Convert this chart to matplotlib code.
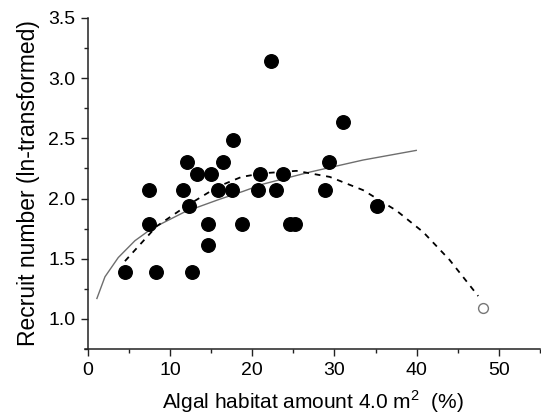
import matplotlib
matplotlib.use("Agg")
import matplotlib.pyplot as plt
from matplotlib.ticker import MultipleLocator

plt.rcParams["font.family"] = ["Liberation Sans", "DejaVu Sans"]
plt.rcParams["mathtext.fontset"] = "custom"
plt.rcParams["mathtext.rm"] = "Liberation Sans"

# observed sites (filled dots)
habitat = [4.50, 8.27, 12.71, 7.46, 7.46, 11.55, 12.29, 12.01, 13.29, 14.55,
           14.55, 15.03, 15.85, 16.48, 17.54, 17.64, 18.80, 20.73, 20.92, 22.27,
           22.85, 23.72, 24.59, 25.17, 28.79, 29.33, 31.07, 35.22]
recruits = [1.39, 1.39, 1.39, 1.79, 2.07, 2.07, 1.94, 2.30, 2.20, 1.79,
            1.61, 2.20, 2.07, 2.30, 2.07, 2.49, 1.79, 2.07, 2.20, 3.14,
            2.07, 2.20, 1.79, 1.79, 2.07, 2.30, 2.64, 1.94]

# outlier site (open circle)
outlier_x = [48.07]
outlier_y = [1.09]

# solid fitted curve
fit_x = [1.09, 2.07, 3.69, 5.72, 7.75, 11.80, 15.85, 18.89, 21.31, 27.01, 33.48, 39.95]
fit_y = [1.17, 1.35, 1.51, 1.65, 1.75, 1.89, 1.99, 2.06, 2.12, 2.22, 2.32, 2.40]

# dashed fitted curve
quad_x = [4.50, 8.36, 11.80, 15.85, 18.70, 21.31, 25.37, 29.42, 33.48, 37.54, 40.82, 44.01, 47.49]
quad_y = [1.48, 1.77, 1.93, 2.10, 2.18, 2.21, 2.23, 2.18, 2.07, 1.90, 1.72, 1.49, 1.19]

fig = plt.figure(figsize=(5.41, 4.18), dpi=100)
ax = fig.add_axes([0.158, 0.165, 0.840, 0.792])

ax.plot(fit_x, fit_y, color="#6e6e6e", lw=1.0)
ax.plot(quad_x, quad_y, color="black", lw=1.3, dashes=(3.2, 3.2))
ax.scatter(habitat, recruits, s=95, color="black", zorder=3)
ax.scatter(outlier_x, outlier_y, s=50, facecolor="white", edgecolor="#777777",
           linewidth=1.0, zorder=3)

ax.set_xlim(-0.3, 55)
ax.set_ylim(0.75, 3.5)
ax.xaxis.set_major_locator(MultipleLocator(10))
ax.xaxis.set_minor_locator(MultipleLocator(5))
ax.yaxis.set_major_locator(MultipleLocator(0.5))
ax.yaxis.set_minor_locator(MultipleLocator(0.25))
ax.yaxis.set_major_formatter(plt.FuncFormatter(lambda v, p: f"{v:.1f}"))

for side in ["top", "right"]:
    ax.spines[side].set_visible(False)
for side in ["left", "bottom"]:
    ax.spines[side].set_linewidth(1.1)
    ax.spines[side].set_color("#222222")
ax.spines["left"].set_position(("data", 0))

ax.tick_params(which="major", length=5, width=1.0, labelsize=14, color="#222222", pad=4)
ax.tick_params(which="minor", length=3, width=1.0, color="#222222")

ax.set_xlabel("Algal habitat amount 4.0 m$^{2}$  (%)", fontsize=15, labelpad=7)
ax.set_ylabel("Recruit number (ln-transformed)", fontsize=16.5, labelpad=6)

fig.savefig("out.png", dpi=100)
